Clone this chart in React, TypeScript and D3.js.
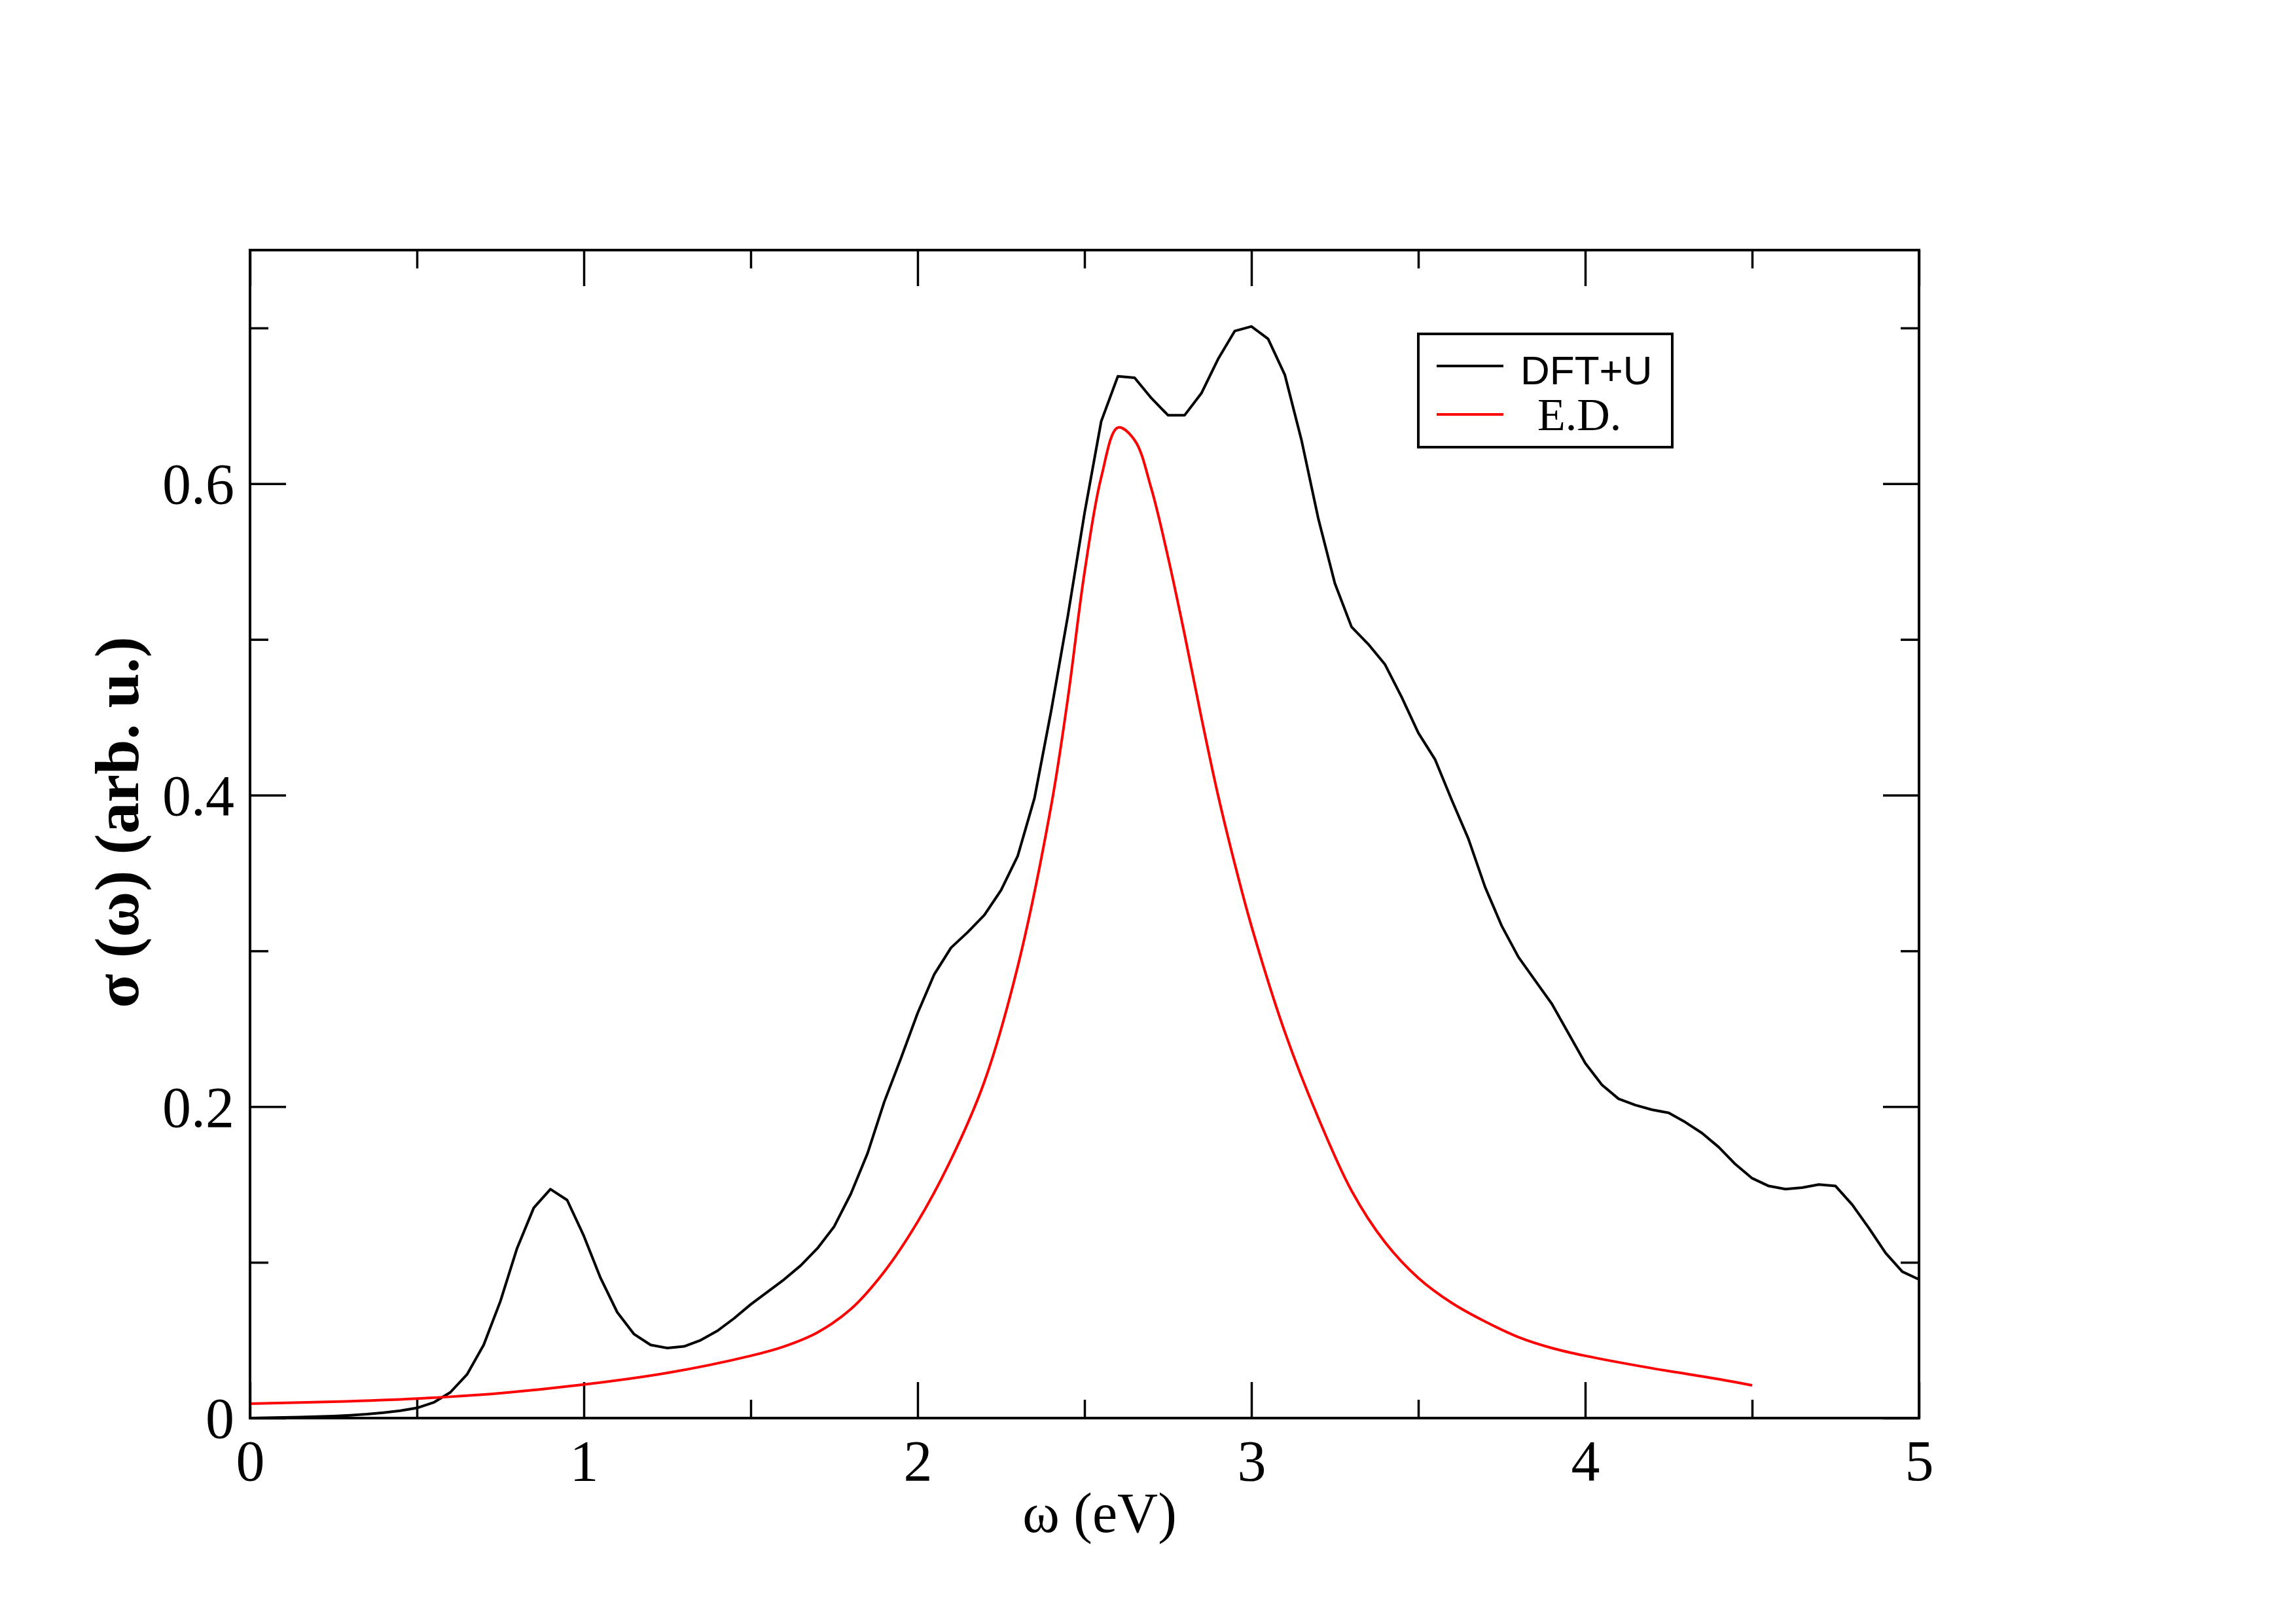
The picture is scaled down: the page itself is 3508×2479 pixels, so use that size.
import { useEffect, useRef } from 'react';
import * as d3 from 'd3';

const WIDTH = 3508;
const HEIGHT = 2479;
const plot = { left: 382, right: 2932, top: 382, bottom: 2166 };

// DFT+U optical conductivity (eV, arb. u.)
const omegaDft = [
  0, 0.05, 0.1, 0.15, 0.2, 0.25, 0.3, 0.35, 0.4, 0.45,
  0.5, 0.55, 0.6, 0.65, 0.7, 0.75, 0.8, 0.85, 0.9, 0.95,
  1.0, 1.05, 1.1, 1.15, 1.2, 1.25, 1.3, 1.35, 1.4, 1.45,
  1.5, 1.55, 1.6, 1.65, 1.7, 1.75, 1.8, 1.85, 1.9, 1.95,
  2.0, 2.05, 2.1, 2.15, 2.2, 2.25, 2.3, 2.35, 2.4, 2.45,
  2.5, 2.55, 2.6, 2.65, 2.7, 2.75, 2.8, 2.85, 2.9, 2.95,
  3.0, 3.05, 3.1, 3.15, 3.2, 3.25, 3.3, 3.35, 3.4, 3.45,
  3.5, 3.55, 3.6, 3.65, 3.7, 3.75, 3.8, 3.85, 3.9, 3.95,
  4.0, 4.05, 4.1, 4.15, 4.2, 4.25, 4.3, 4.35, 4.4, 4.45,
  4.5, 4.55, 4.6, 4.65, 4.7, 4.75, 4.8, 4.85, 4.9, 4.95, 5.0
];
const sigmaDft = [
  0.0, 0.0002, 0.0004, 0.0006, 0.0009, 0.0013, 0.0018, 0.0025, 0.0035, 0.0047,
  0.0065, 0.01, 0.0165, 0.028, 0.047, 0.075, 0.109, 0.135, 0.147, 0.14,
  0.117, 0.09, 0.068, 0.054, 0.047, 0.045, 0.046, 0.05, 0.056, 0.064,
  0.073, 0.081, 0.089, 0.098, 0.109, 0.123, 0.144, 0.17, 0.203, 0.231,
  0.26, 0.285, 0.302, 0.312, 0.323, 0.339, 0.361, 0.398, 0.454, 0.515,
  0.581, 0.64, 0.669, 0.668, 0.655, 0.644, 0.644, 0.658, 0.68, 0.698,
  0.701, 0.693, 0.67, 0.628, 0.578, 0.536, 0.508, 0.497, 0.484, 0.463,
  0.44, 0.423, 0.397, 0.372, 0.341, 0.316, 0.296, 0.281, 0.266, 0.247,
  0.228, 0.214, 0.205, 0.201, 0.198, 0.196, 0.19, 0.183, 0.174, 0.163,
  0.154, 0.149, 0.147, 0.148, 0.15, 0.149, 0.137, 0.122, 0.106, 0.094, 0.089
];

// Exact diagonalization spectrum
const omegaEd = [
  0, 0.25, 0.5, 0.75, 1.0, 1.25, 1.5, 1.6, 1.7, 1.8, 1.9, 2.0, 2.1, 2.2, 2.3,
  2.4, 2.45, 2.5, 2.55, 2.6, 2.65, 2.7, 2.75, 2.8, 2.85, 2.9, 2.95, 3.0, 3.1, 3.2, 3.3, 3.4, 3.5,
  3.6, 3.7, 3.8, 3.9, 4.0, 4.2, 4.4, 4.5
];
const sigmaEd = [
  0.0093, 0.0105, 0.0125, 0.016, 0.0215, 0.029, 0.04, 0.046, 0.055, 0.07, 0.094, 0.126, 0.166, 0.216, 0.29,
  0.393, 0.462, 0.543, 0.604, 0.636, 0.628, 0.597, 0.553, 0.503, 0.45, 0.4, 0.356, 0.316, 0.248, 0.193, 0.146, 0.113, 0.09,
  0.074, 0.062, 0.052, 0.045, 0.04, 0.032, 0.025, 0.021
];

const xMajorTicks = [0, 1, 2, 3, 4, 5];
const xMinorTicks = [0.5, 1.5, 2.5, 3.5, 4.5];
const yMajorTicks = [0, 0.2, 0.4, 0.6];
const yMinorTicks = [0.1, 0.3, 0.5, 0.7];
const seriesNames = ['DFT+U', 'E.D.'];
const seriesColors = ['#000000', '#ff0000'];

const SERIF = '"Liberation Serif", "Times New Roman", serif';
const SANS = '"Liberation Sans", Arial, sans-serif';

export default function App() {
  const svgRef = useRef<SVGSVGElement>(null);

  useEffect(() => {
    document.body.style.margin = '0';
    const svg = d3.select(svgRef.current);
    svg.selectAll('*').remove();

    const x = d3.scaleLinear().domain([0, 5]).range([plot.left, plot.right]);
    const y = d3.scaleLinear().domain([0, 0.75]).range([plot.bottom, plot.top]);

    const majorLen = 55;
    const minorLen = 28;
    const tickFont = 88;
    const fmtY = (d: d3.NumberValue) => (+d === 0 ? '0' : d3.format('.1f')(+d));

    const styleAxis = (g: d3.Selection<SVGGElement, unknown, null, undefined>) => {
      g.select('.domain').remove();
      g.selectAll('line').attr('stroke', '#000').attr('stroke-width', 3.5);
    };

    // bottom
    const gb = svg.append('g').attr('transform', `translate(0,${plot.bottom})`);
    gb.call(d3.axisBottom(x).tickValues(xMajorTicks).tickSizeInner(-majorLen).tickSizeOuter(0).tickFormat(d3.format('d')));
    styleAxis(gb);
    gb.selectAll('text')
      .attr('y', 95)
      .attr('dy', null)
      .attr('font-family', SERIF)
      .attr('font-size', tickFont)
      .attr('fill', '#000');
    const gbm = svg.append('g').attr('transform', `translate(0,${plot.bottom})`);
    gbm.call(d3.axisBottom(x).tickValues(xMinorTicks).tickSizeInner(-minorLen).tickSizeOuter(0).tickFormat(() => ''));
    styleAxis(gbm);

    // top
    const gt = svg.append('g').attr('transform', `translate(0,${plot.top})`);
    gt.call(d3.axisTop(x).tickValues(xMajorTicks).tickSizeInner(-majorLen).tickSizeOuter(0).tickFormat(() => ''));
    styleAxis(gt);
    const gtm = svg.append('g').attr('transform', `translate(0,${plot.top})`);
    gtm.call(d3.axisTop(x).tickValues(xMinorTicks).tickSizeInner(-minorLen).tickSizeOuter(0).tickFormat(() => ''));
    styleAxis(gtm);

    // left
    const gl = svg.append('g').attr('transform', `translate(${plot.left},0)`);
    gl.call(d3.axisLeft(y).tickValues(yMajorTicks).tickSizeInner(-majorLen).tickSizeOuter(0).tickFormat(fmtY));
    styleAxis(gl);
    gl.selectAll('text')
      .attr('x', -24)
      .attr('dy', '0.34em')
      .attr('font-family', SERIF)
      .attr('font-size', tickFont)
      .attr('fill', '#000');
    const glm = svg.append('g').attr('transform', `translate(${plot.left},0)`);
    glm.call(d3.axisLeft(y).tickValues(yMinorTicks).tickSizeInner(-minorLen).tickSizeOuter(0).tickFormat(() => ''));
    styleAxis(glm);

    // right
    const gr = svg.append('g').attr('transform', `translate(${plot.right},0)`);
    gr.call(d3.axisRight(y).tickValues(yMajorTicks).tickSizeInner(-majorLen).tickSizeOuter(0).tickFormat(() => ''));
    styleAxis(gr);
    const grm = svg.append('g').attr('transform', `translate(${plot.right},0)`);
    grm.call(d3.axisRight(y).tickValues(yMinorTicks).tickSizeInner(-minorLen).tickSizeOuter(0).tickFormat(() => ''));
    styleAxis(grm);

    // curves
    const dftLine = d3
      .line<number>()
      .x((d) => x(d))
      .y((_, i) => y(sigmaDft[i]));
    svg
      .append('path')
      .attr('d', dftLine(omegaDft))
      .attr('fill', 'none')
      .attr('stroke', seriesColors[0])
      .attr('stroke-width', 4)
      .attr('stroke-linejoin', 'round');

    const edLine = d3
      .line<number>()
      .x((d) => x(d))
      .y((_, i) => y(sigmaEd[i]))
      .curve(d3.curveCatmullRom.alpha(0.5));
    svg
      .append('path')
      .attr('d', edLine(omegaEd))
      .attr('fill', 'none')
      .attr('stroke', seriesColors[1])
      .attr('stroke-width', 4);

    // frame
    svg
      .append('rect')
      .attr('x', plot.left)
      .attr('y', plot.top)
      .attr('width', plot.right - plot.left)
      .attr('height', plot.bottom - plot.top)
      .attr('fill', 'none')
      .attr('stroke', '#000')
      .attr('stroke-width', 4);

    // axis titles
    svg
      .append('text')
      .attr('x', 1680)
      .attr('y', 2340)
      .attr('text-anchor', 'middle')
      .attr('font-family', SERIF)
      .attr('font-size', 86)
      .text('ω (eV)');
    svg
      .append('text')
      .attr('transform', 'translate(211,1256) rotate(-90)')
      .attr('text-anchor', 'middle')
      .attr('font-family', SERIF)
      .attr('font-weight', 'bold')
      .attr('font-size', 96)
      .text('σ (ω) (arb. u.)');

    // legend
    const legend = svg.append('g');
    legend
      .append('rect')
      .attr('x', 2167)
      .attr('y', 510)
      .attr('width', 388)
      .attr('height', 173)
      .attr('fill', '#fff')
      .attr('stroke', '#000')
      .attr('stroke-width', 4);
    const rows = [
      { y: 559, tx: 2323, ty: 587, font: SANS, size: 62 },
      { y: 633, tx: 2349, ty: 657, font: SERIF, size: 70 }
    ];
    rows.forEach((r, i) => {
      legend
        .append('line')
        .attr('x1', 2195)
        .attr('x2', 2297)
        .attr('y1', r.y)
        .attr('y2', r.y)
        .attr('stroke', seriesColors[i])
        .attr('stroke-width', 4);
      legend
        .append('text')
        .attr('x', r.tx)
        .attr('y', r.ty)
        .attr('font-family', r.font)
        .attr('font-size', r.size)
        .text(seriesNames[i]);
    });
  }, []);

  return <svg ref={svgRef} width={WIDTH} height={HEIGHT} style={{ display: 'block', background: '#fff' }} />;
}
